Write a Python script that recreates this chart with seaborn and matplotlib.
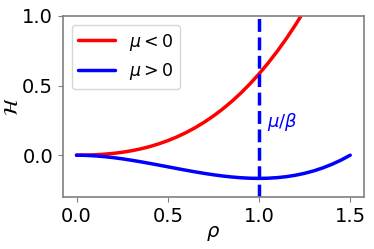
import matplotlib
matplotlib.use("Agg")
import matplotlib.pyplot as plt
import seaborn as sns
import pandas as pd

rho = [0.0, 0.05, 0.1, 0.15, 0.2, 0.25, 0.3, 0.35, 0.4, 0.45, 0.5, 0.55, 0.6, 0.65,
       0.7, 0.75, 0.8, 0.85, 0.9, 0.95, 1.0, 1.05, 1.1, 1.15, 1.2, 1.25, 1.3, 1.35,
       1.4, 1.45, 1.5]
H_neg = [0.0, 0.0007, 0.0028, 0.0068, 0.0127, 0.0208, 0.0315, 0.0449, 0.0613, 0.0810,
         0.1042, 0.1311, 0.1620, 0.1972, 0.2368, 0.2813, 0.3307, 0.3853, 0.4455, 0.5114,
         0.5833, 0.6615, 0.7462, 0.8376, 0.9360, 1.0417, 1.1548, 1.2757, 1.4047, 1.5418,
         1.6875]
H_pos = [0.0, -0.0012, -0.0047, -0.0101, -0.0173, -0.0260, -0.0360, -0.0470, -0.0587,
         -0.0709, -0.0833, -0.0958, -0.1080, -0.1197, -0.1307, -0.1406, -0.1493, -0.1565,
         -0.1620, -0.1655, -0.1667, -0.1654, -0.1613, -0.1543, -0.1440, -0.1302, -0.1127,
         -0.0911, -0.0653, -0.0351, 0.0]
labels = [r"$\mu < 0$", r"$\mu > 0$"]
colors = ["red", "blue"]
crit = 1.0
crit_label = r"$\mu/\beta$"

sns.set_style("ticks")
plt.rcParams["text.color"] = "black"
plt.rcParams["axes.labelcolor"] = "black"
plt.rcParams["xtick.labelcolor"] = "black"
plt.rcParams["ytick.labelcolor"] = "black"
fig = plt.figure(figsize=(3.74, 2.49), dpi=100)
ax = fig.add_axes([0.168, 0.209, 0.805, 0.727])

df = pd.DataFrame({"rho": rho * 2, "H": H_neg + H_pos,
                   "case": [labels[0]] * len(rho) + [labels[1]] * len(rho)})
sns.lineplot(data=df, x="rho", y="H", hue="case", palette=colors, lw=2.5, ax=ax)
ax.axvline(crit, color="blue", ls="--", lw=2.5)
ax.text(1.045, 0.236, crit_label, color="blue", fontsize=13, va="center", ha="left")

ax.set_ylim(-0.3, 1.0)
ax.set_xlim(-0.075, 1.575)
ax.set_xticks([0.0, 0.5, 1.0, 1.5])
ax.set_yticks([0.0, 0.5, 1.0])
ax.set_xlabel(r"$\rho$", fontsize=14)
ax.set_ylabel(r"$\mathcal{H}$", fontsize=14)
ax.xaxis.set_label_coords(0.5, -0.15)
ax.yaxis.set_label_coords(-0.135, 0.5)
ax.tick_params(labelsize=14, color="gray")
for s in ax.spines.values():
    s.set_color("gray")
    s.set_linewidth(1.2)
leg = ax.legend(loc="upper left", fontsize=12.5, title=None, handlelength=2.1)
fig.savefig("out.png", dpi=100)
